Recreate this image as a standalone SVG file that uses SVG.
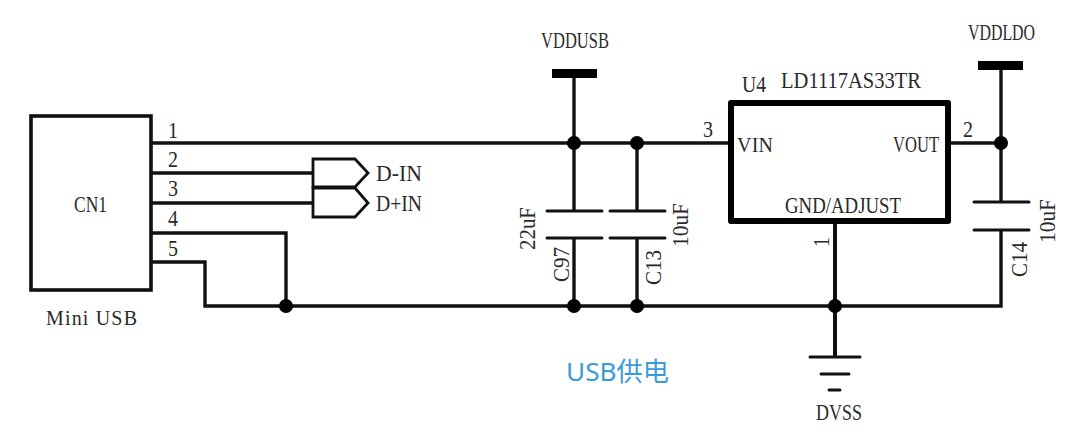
<svg xmlns="http://www.w3.org/2000/svg" width="1079" height="435" viewBox="0 0 1079 435">
<style>
.w{fill:none;stroke:#111;stroke-width:3.4;stroke-linejoin:miter}
.p{stroke-width:3;stroke-linecap:round}
.j{fill:#000}
.s{font-size:20px}
text{font-family:"Liberation Serif","Times New Roman",serif;font-size:23px;fill:#2a2a2a}
</style>
<rect width="1079" height="435" fill="#fff"/>
<g id="connectors">
<path class="w" d="M151 143H728"/>
<path class="w" d="M151 173H313"/>
<path class="w" d="M151 203H313"/>
<path class="w" d="M151 233H286V306"/>
<path class="w" d="M151 262H205V306H1001V230"/>
<path class="w" d="M574 78V211M574 238V306"/>
<path class="w" d="M637 143V211M637 238V306"/>
<path class="w" d="M948 143H1001"/>
<path class="w" d="M1001 70V202"/>
<path class="w" style="stroke-width:4" d="M835 221V357"/>
<circle class="j" cx="286" cy="306" r="7"/>
<circle class="j" cx="574" cy="143" r="7"/>
<circle class="j" cx="637" cy="143" r="7"/>
<circle class="j" cx="574" cy="306" r="7"/>
<circle class="j" cx="637" cy="306" r="7"/>
<circle class="j" cx="835" cy="306" r="7"/>
<circle class="j" cx="1001" cy="143" r="7"/>
</g>
<g id="CN1">
<rect class="w" style="stroke-width:3.6" x="31" y="116" width="120" height="174"/>
<text x="74" y="212" textLength="33" lengthAdjust="spacingAndGlyphs">CN1</text>
<text class="s" x="46" y="325" textLength="91" lengthAdjust="spacing">Mini USB</text>
<text x="168" y="138" textLength="10" lengthAdjust="spacingAndGlyphs">1</text>
<text x="168" y="167" textLength="10" lengthAdjust="spacingAndGlyphs">2</text>
<text x="168" y="196" textLength="10" lengthAdjust="spacingAndGlyphs">3</text>
<text x="168" y="226" textLength="10" lengthAdjust="spacingAndGlyphs">4</text>
<text x="168" y="256" textLength="10" lengthAdjust="spacingAndGlyphs">5</text>
</g>
<g id="D-IN">
<polygon class="w" style="stroke-width:2.8" points="313,159 355,159 368,173 355,187 313,187"/>
<text x="376" y="181" textLength="46" lengthAdjust="spacingAndGlyphs">D-IN</text>
</g>
<g id="D+IN">
<polygon class="w" style="stroke-width:2.8" points="313,188 355,188 368,203 355,217 313,217"/>
<text x="376" y="211" textLength="46" lengthAdjust="spacingAndGlyphs">D+IN</text>
</g>
<g id="VDDUSB">
<rect x="552" y="69" width="45" height="9" fill="#000"/>
<text x="541" y="48" textLength="68" lengthAdjust="spacingAndGlyphs">VDDUSB</text>
</g>
<g id="C97">
<path class="w p" d="M547 211H602M547 238H602"/>
<text transform="translate(535 250) rotate(-90)" textLength="43" lengthAdjust="spacingAndGlyphs">22uF</text>
<text transform="translate(569 282) rotate(-90)" textLength="35" lengthAdjust="spacingAndGlyphs">C97</text>
</g>
<g id="C13">
<path class="w p" d="M610 211H665M610 238H665"/>
<text transform="translate(688 247) rotate(-90)" textLength="44" lengthAdjust="spacingAndGlyphs">10uF</text>
<text transform="translate(661 285) rotate(-90)" textLength="35" lengthAdjust="spacingAndGlyphs">C13</text>
</g>
<g id="U4">
<rect x="731" y="103" width="217" height="118" fill="none" stroke="#000" stroke-width="6" stroke-linejoin="round"/>
<text x="742" y="92" textLength="24" lengthAdjust="spacingAndGlyphs">U4</text>
<text x="781" y="88" textLength="140" lengthAdjust="spacingAndGlyphs">LD1117AS33TR</text>
<text class="s" x="737" y="152" textLength="36" lengthAdjust="spacing">VIN</text>
<text x="893" y="152" textLength="46" lengthAdjust="spacingAndGlyphs">VOUT</text>
<text x="785" y="213" textLength="116" lengthAdjust="spacingAndGlyphs">GND/ADJUST</text>
<text x="703" y="137" textLength="10" lengthAdjust="spacingAndGlyphs">3</text>
<text x="963" y="137" textLength="10" lengthAdjust="spacingAndGlyphs">2</text>
<text transform="translate(829 247) rotate(-90)" textLength="10" lengthAdjust="spacingAndGlyphs">1</text>
</g>
<g id="C14">
<path class="w p" d="M974 202H1029M974 230H1029"/>
<text transform="translate(1055 243) rotate(-90)" textLength="44" lengthAdjust="spacingAndGlyphs">10uF</text>
<text transform="translate(1027 277) rotate(-90)" textLength="35" lengthAdjust="spacingAndGlyphs">C14</text>
</g>
<g id="VDDLDO">
<rect x="978" y="61" width="45" height="9" fill="#000"/>
<text x="968" y="40" textLength="67" lengthAdjust="spacingAndGlyphs">VDDLDO</text>
</g>
<g id="DVSS">
<path class="w p" d="M810 357H860M821 374H849M829 390H840"/>
<text x="816" y="420" textLength="46" lengthAdjust="spacingAndGlyphs">DVSS</text>
</g>
<g id="caption">
<text x="566" y="381" style="font-family:'Noto Sans','Noto Sans CJK SC',sans-serif;font-size:26px;fill:#3c9ad8" textLength="103" lengthAdjust="spacingAndGlyphs">USB供电</text>
</g>
</svg>
